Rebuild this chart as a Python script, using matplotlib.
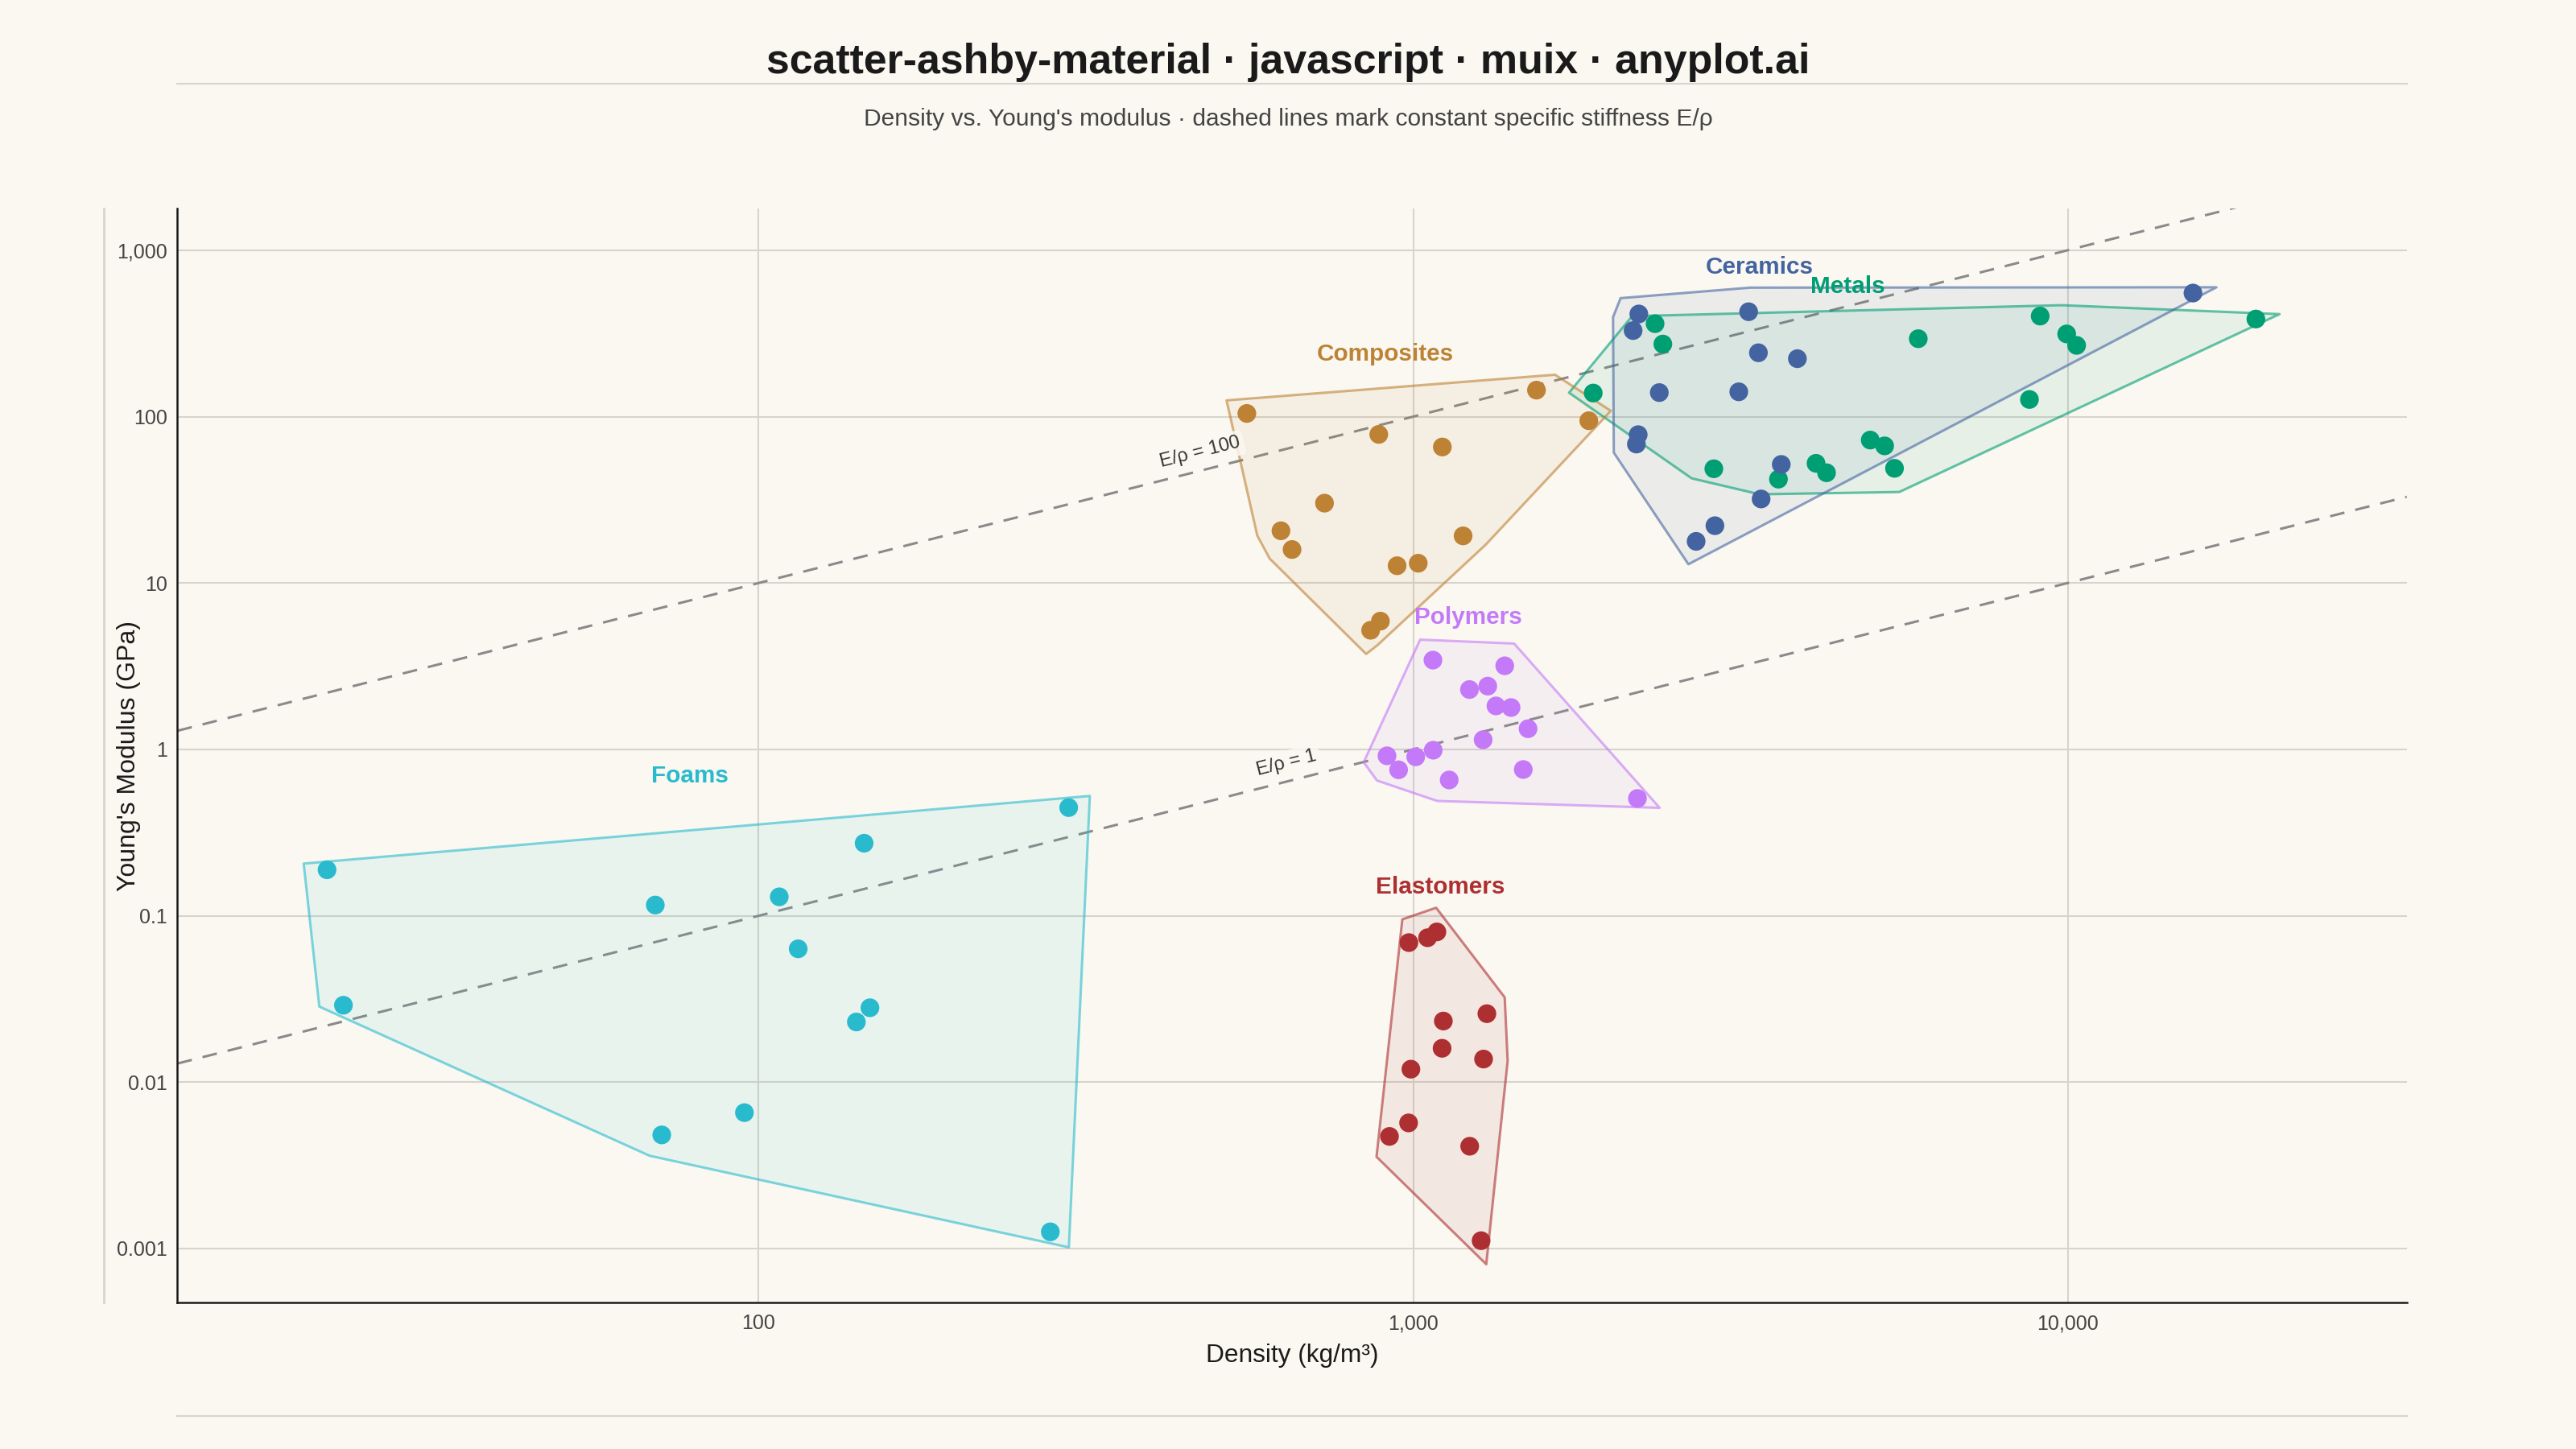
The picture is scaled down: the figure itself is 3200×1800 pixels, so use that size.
import numpy as np
import matplotlib
matplotlib.use("Agg")
import matplotlib.pyplot as plt
from matplotlib.patches import Polygon
from matplotlib.lines import Line2D

# ---------------- data ----------------
groups = ["Metals", "Ceramics", "Composites", "Polymers", "Foams", "Elastomers"]

foams_rho = [21.9, 23.2, 69.5, 71.1, 95.1, 107.5, 114.9, 144.9, 147.9, 141, 297.6, 279]
foams_E = [0.189, 0.029, 0.116, 0.00482, 0.00656, 0.130, 0.0633, 0.273, 0.0280, 0.0230, 0.447, 0.00126]

composites_rho = [557, 886, 1543, 1855, 1108, 732, 628, 653, 945, 1018, 1192, 891, 861]
composites_E = [104.5, 78.2, 144.3, 94.5, 65.7, 30.2, 20.6, 15.9, 12.7, 13.15, 19.2, 5.90, 5.20]

ceramics_rho = [2212, 2168, 3255, 3369, 3864, 2377, 3144, 2207, 2193, 3651, 3401, 2891, 2706, 15540]
ceramics_E = [414, 329, 427, 242, 223, 139.5, 141, 77.9, 68.4, 51.6, 32.0, 22.1, 17.8, 553]

metals_rho = [2342, 2407, 1884, 5912, 2880, 3615, 4126, 4281, 4993, 5252, 5438, 9078, 9966, 10320, 8742, 19390]
metals_E = [362, 273, 138.6, 294, 48.6, 42.1, 52.4, 46.0, 72.3, 66.7, 48.9, 402, 314, 268, 126.8, 386]

polymers_rho = [1072, 1380, 1219, 1300, 1338, 1411, 1498, 1279, 912, 1009, 1073, 950, 1135, 1473, 2201]
polymers_E = [3.44, 3.18, 2.29, 2.40, 1.825, 1.785, 1.331, 1.143, 0.915, 0.902, 0.989, 0.754, 0.655, 0.757, 0.507]

elastomers_rho = [985, 1052, 1087, 1112, 1296, 1107, 1281, 992, 984, 920, 1220, 1270]
elastomers_E = [0.0690, 0.0738, 0.0800, 0.0233, 0.0258, 0.01598, 0.01377, 0.01197, 0.00569, 0.00472, 0.00412, 0.001115]

# label anchor positions (density, modulus)
label_rho = {"Foams": 78.5, "Composites": 906, "Ceramics": 3382, "Metals": 4609,
             "Polymers": 1212, "Elastomers": 1100}
label_E = {"Foams": 0.69, "Composites": 237, "Ceramics": 793, "Metals": 607,
           "Polymers": 6.19, "Elastomers": 0.149}

ratios = [100, 1]                 # specific stiffness E/rho (MJ/kg)
ratio_label_rho = [480, 650]

x_ticks = [100, 1000, 10000]
x_ticklabels = ["100", "1,000", "10,000"]
y_ticks = [0.001, 0.01, 0.1, 1, 10, 100, 1000]
y_ticklabels = ["0.001", "0.01", "0.1", "1", "10", "100", "1,000"]

data = {
    "Foams": (foams_rho, foams_E),
    "Composites": (composites_rho, composites_E),
    "Ceramics": (ceramics_rho, ceramics_E),
    "Metals": (metals_rho, metals_E),
    "Polymers": (polymers_rho, polymers_E),
    "Elastomers": (elastomers_rho, elastomers_E),
}

colors = {
    "Foams": "#29BBCD",
    "Composites": "#BD8234",
    "Ceramics": "#4464A1",
    "Metals": "#009E73",
    "Polymers": "#C47AF8",
    "Elastomers": "#AD2F31",
}

BG = "#FAF8F1"
GRID = "#D6D4CB"
INK = "#1A1A1A"
FONT = ["Liberation Sans", "DejaVu Sans"]
plt.rcParams["font.family"] = FONT

fig = plt.figure(figsize=(16, 9), dpi=200, facecolor=BG)
ax = fig.add_axes([0.0689, 0.1009, 0.9343 - 0.0689, 0.856 - 0.1009])
ax.set_facecolor(BG)
ax.set_xscale("log")
ax.set_yscale("log")
ax.set_xlim(12.94, 32970)
ax.set_ylim(4.72e-4, 1778)

# grid
ax.set_xticks(x_ticks)
ax.set_xticklabels(x_ticklabels)
ax.set_yticks(y_ticks)
ax.set_yticklabels(y_ticklabels)
ax.minorticks_off()
ax.grid(True, which="major", color=GRID, lw=0.75, zorder=0)
ax.set_axisbelow(True)
ax.axvline(10, color=GRID, lw=1.0, clip_on=False, zorder=0)
ax.tick_params(length=0, labelsize=9, labelcolor="#444444", pad=5)
ax.tick_params(axis="y", pad=4.5)
for s in ["top", "right"]:
    ax.spines[s].set_visible(False)
for s in ["left", "bottom"]:
    ax.spines[s].set_color(INK)
    ax.spines[s].set_linewidth(0.9)

# reference lines
xr = np.array(ax.get_xlim())
for r, lr in zip(ratios, ratio_label_rho):
    ax.plot(xr, r * xr / 1000.0, color="#8A8A8A", lw=1.1, ls=(0, (6, 4.5)), zorder=1)
    p1 = ax.transData.transform((100, r * 0.1))
    p2 = ax.transData.transform((1000, r * 1.0))
    ang = np.degrees(np.arctan2(p2[1] - p1[1], p2[0] - p1[0]))
    # offset label slightly above the line, perpendicular in screen space
    base = ax.transData.transform((lr, r * lr / 1000.0))
    n = np.array([-np.sin(np.radians(ang)), np.cos(np.radians(ang))])
    pos = ax.transData.inverted().transform(base + n * 22)
    ax.text(pos[0], pos[1], f"E/ρ = {r}", rotation=ang, rotation_mode="anchor",
            ha="center", va="center", fontsize=8.5, color="#333333", zorder=6,
            bbox=dict(boxstyle="round,pad=0.2", fc=BG, ec="none", alpha=0.85))


def convex_hull(points):
    pts = sorted(map(tuple, points))
    if len(pts) <= 2:
        return pts

    def cross(o, a, b):
        return (a[0] - o[0]) * (b[1] - o[1]) - (a[1] - o[1]) * (b[0] - o[0])

    lower = []
    for p in pts:
        while len(lower) >= 2 and cross(lower[-2], lower[-1], p) <= 0:
            lower.pop()
        lower.append(p)
    upper = []
    for p in reversed(pts):
        while len(upper) >= 2 and cross(upper[-2], upper[-1], p) <= 0:
            upper.pop()
        upper.append(p)
    return lower[:-1] + upper[:-1]


PAD = 30  # px outward padding of hulls
order = ["Metals", "Ceramics", "Composites", "Polymers", "Foams", "Elastomers"]
for g in order:
    rho, E = data[g]
    px = ax.transData.transform(np.column_stack([rho, E]))
    c = px.mean(axis=0)
    d = px - c
    nrm = np.linalg.norm(d, axis=1, keepdims=True)
    nrm[nrm == 0] = 1
    ex = px + d / nrm * PAD
    hull = np.array(convex_hull(ex))
    hull_data = ax.transData.inverted().transform(hull)
    ax.add_patch(Polygon(hull_data, closed=True, fc=colors[g], alpha=0.08,
                         ec="none", zorder=2))
    ax.add_patch(Polygon(hull_data, closed=True, fc="none", ec=colors[g],
                         alpha=0.6, lw=1.1, zorder=3, joinstyle="round"))

for g in order:
    rho, E = data[g]
    ax.scatter(rho, E, s=70, color=colors[g], edgecolors="none", zorder=4)
    ax.text(label_rho[g], label_E[g], g, color=colors[g], fontsize=10.7,
            fontweight="bold", ha="center", va="center", zorder=7)

ax.set_xlabel("Density (kg/m³)", fontsize=11.4, color=INK)
ax.set_ylabel("Young's Modulus (GPa)", fontsize=11.5, color=INK)
ax.xaxis.set_label_coords(0.5, -0.037)
ax.yaxis.set_label_coords(-0.0164, 0.5)

# title & subtitle
fig.text(0.5, 0.957, "scatter-ashby-material · javascript · muix · anyplot.ai",
         ha="center", va="center", fontsize=18.7, fontweight="bold", color=INK)
fig.text(0.5, 0.9175, "Density vs. Young's modulus · dashed lines mark constant specific stiffness E/ρ",
         ha="center", va="center", fontsize=10.8, color="#444444")

# decorative rules
for yy in [0.9422, 0.0228]:
    fig.add_artist(Line2D([0.0689, 0.9343], [yy, yy], transform=fig.transFigure,
                          color="#D8D6CE", lw=0.8))

fig.savefig("out.png", dpi=200, facecolor=BG)
